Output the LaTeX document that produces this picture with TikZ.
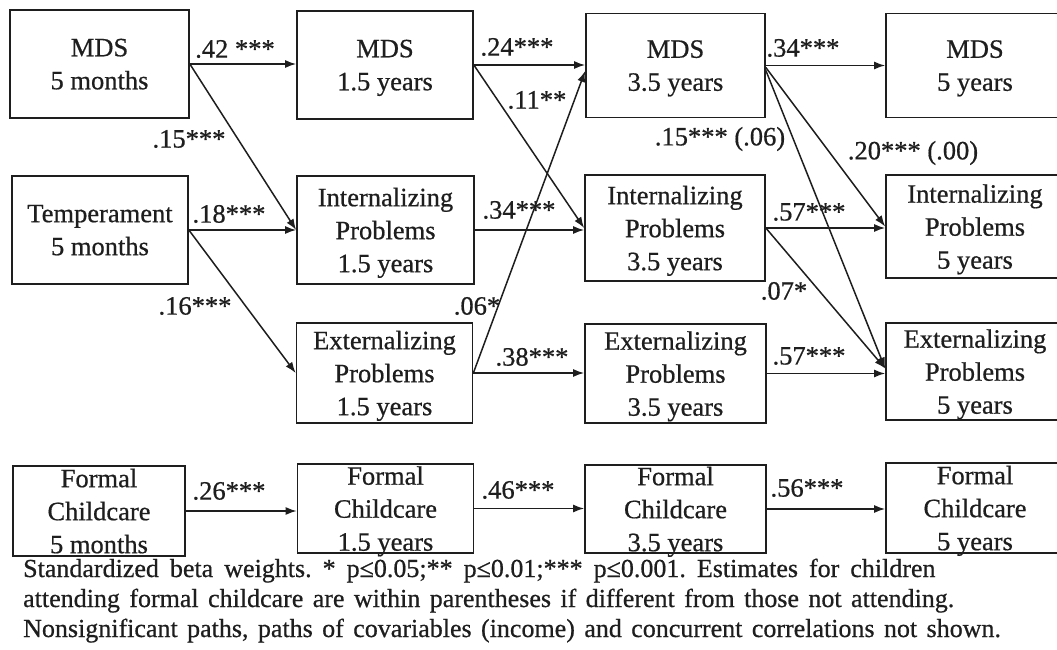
\documentclass[tikz,border=0pt]{standalone}
\usepackage{fontspec}
\setmainfont{Liberation Serif}[FakeBold=0.6]
\usetikzlibrary{arrows.meta}
\definecolor{ink}{HTML}{1E1E1E}
\newcommand\capfontsel{\fontsize{26}{30}\selectfont\frenchspacing\spaceskip=9.4pt\relax}
\newcommand\mybox[6]{%
  \node[box, minimum width=#4pt, minimum height=#5pt] (#1) at (#2,#3) {};
  \node[btext] (#1t) at (#1.center) {#6};}
\begin{document}
\begin{tikzpicture}[x=1pt,y=-1pt,
  box/.style={draw=ink, line width=1.7pt, inner sep=0pt},
  btext/.style={align=center, font=\fontsize{26.5}{33}\selectfont, text depth=0pt, inner sep=0pt, text=ink},
  lbl/.style={font=\fontsize{26.5}{33}\selectfont, inner sep=0pt, text=ink},
  captxt/.style={font=\capfontsel, inner sep=0pt, anchor=base west, text=ink},
  arr/.style={draw=ink, line width=1.5pt, -{Latex[length=11pt,width=8pt]}},
]
\path[use as bounding box] (0,0) rectangle (1057,650);
\clip (0,0) rectangle (1057,650);
\fill[white] (0,0) rectangle (1057,650);

% column 1
\mybox{m5}{99.5}{64}{179}{108}{MDS\\5 months}
\mybox{t5}{100}{230}{176}{108}{Temperament\\5 months}
\mybox{f5}{99}{511}{172}{90}{Formal\\Childcare\\5 months}
% column 2
\mybox{m15}{385}{65}{176}{108}{MDS\\1.5 years}
\mybox{i15}{385.5}{230}{177}{108}{Internalizing\\Problems\\1.5 years}
\mybox{e15}{384.5}{373}{176}{100}{Externalizing\\Problems\\1.5 years}
\mybox{f15}{385.5}{508.5}{176}{89}{Formal\\Childcare\\1.5 years}
% column 3
\mybox{m35}{675.5}{65.5}{179}{104}{MDS\\3.5 years}
\mybox{i35}{675}{228}{180}{106}{Internalizing\\Problems\\3.5 years}
\mybox{e35}{675.5}{373.5}{181}{99}{Externalizing\\Problems\\3.5 years}
\mybox{f35}{675.5}{509}{181}{88}{Formal\\Childcare\\3.5 years}
% column 4
\mybox{m5y}{975}{65.5}{178}{104}{MDS\\5 years}
\mybox{i5y}{975}{226.5}{178}{103}{Internalizing\\Problems\\5 years}
\mybox{e5y}{975}{371.5}{178}{97}{Externalizing\\Problems\\5 years}
\mybox{f5y}{975}{508}{178}{89.5}{Formal\\Childcare\\5 years}

% horizontal paths
\draw[arr] (m5.east) -- (m5.east -| m15.west);
\draw[arr] (t5.east) -- (t5.east -| i15.west);
\draw[arr] (f5.east) -- (f5.east -| f15.west);
\draw[arr] (m15.east) -- (m15.east -| m35.west);
\draw[arr] (i15.east) -- (i15.east -| i35.west);
\draw[arr] (e15.east) -- (e15.east -| e35.west);
\draw[arr] (f15.east) -- (f15.east -| f35.west);
\draw[arr] (m35.east) -- (m35.east -| m5y.west);
\draw[arr] (i35.east) -- (i35.east -| i5y.west);
\draw[arr] (e35.east) -- (e35.east -| e5y.west);
\draw[arr] (f35.east) -- (f35.east -| f5y.west);

% diagonal paths
\draw[arr] (m5.east) -- (i15.west);
\draw[arr] (t5.east) -- (e15.west);
\draw[arr] (m15.east) -- (i35.west);
\draw[arr] (e15.east) -- ([yshift=-5.5pt]m35.west);
\draw[arr] ([yshift=-2pt]m35.east) -- (i5y.west);
\draw[arr] ([yshift=-5pt]m35.east) -- ([yshift=3pt]e5y.west);
\draw[arr] (i35.east) -- ([yshift=3pt]e5y.west);

% labels
\node[lbl] (l42) at (235,49) {.42 ***};
\node[lbl] (l15a) at (189,139) {.15***};
\node[lbl] (l18) at (229,214) {.18***};
\node[lbl] (l16) at (195,306) {.16***};
\node[lbl] (l24) at (517,47) {.24***};
\node[lbl] (l11) at (537,100) {.11**};
\node[lbl] (l34a) at (519,210) {.34***};
\node[lbl] (l06) at (477,306) {.06*};
\node[lbl] (l38) at (532,357) {.38***};
\node[lbl] (l34b) at (803,48) {.34***};
\node[lbl] (l15b) at (720,139) {.15*** (.06)};
\node[lbl] (l20) at (913,153) {.20*** (.00)};
\node[lbl] (l57a) at (809,212) {.57***};
\node[lbl] (l07) at (784,291) {.07*};
\node[lbl] (l57b) at (809,356) {.57***};
\node[lbl] (l26) at (229,491) {.26***};
\node[lbl] (l46) at (518,490) {.46***};
\node[lbl] (l56) at (807,488) {.56***};

% caption
\node[captxt] (c1) at (23,577) {\spaceskip=11pt\relax Standardized beta weights. * p≤0.05;** p≤0.01;*** p≤0.001. Estimates for children};
\node[captxt] (c2) at (23,607) {attending formal childcare are within parentheses if different from those not attending.};
\node[captxt] (c3) at (23,637) {Nonsignificant paths, paths of covariables (income) and concurrent correlations not shown.};
\end{tikzpicture}
\end{document}
